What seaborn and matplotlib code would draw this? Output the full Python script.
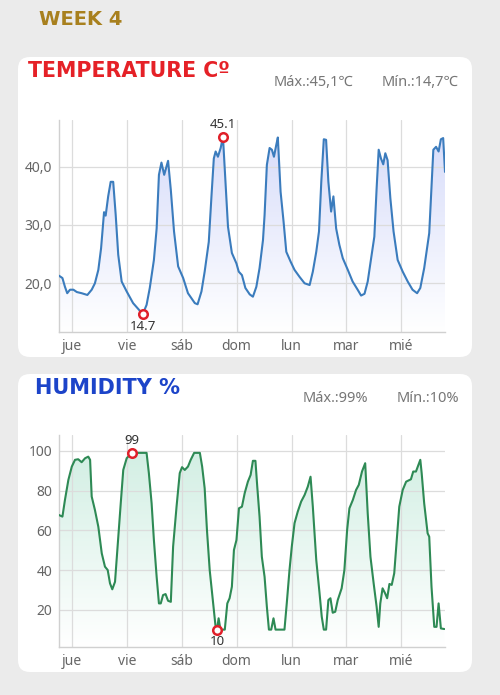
import numpy as np
import matplotlib
matplotlib.use("Agg")
import matplotlib.pyplot as plt
import seaborn as sns
from matplotlib.patches import FancyBboxPatch
from matplotlib.transforms import IdentityTransform
from matplotlib.colors import LinearSegmentedColormap
from matplotlib.ticker import FuncFormatter

# --- data (hours from jue 00:00) ---
days = ["jue", "vie", "sáb", "dom", "lun", "mar", "mié"]
day_hours = [0, 24, 48, 72, 96, 120, 144]

temp_hours = [-5.7, -4.2, -3.1, -2.1, -0.9, 0.6, 2.1, 4.2, 6.7, 8.6, 10.0, 11.5, 12.7,
              14.0, 14.7, 15.8, 16.9, 18.0, 19.1, 20.2, 21.7, 23.9, 26.7, 29.4, 30.9,
              32.6, 34.0, 35.8, 37.0, 38.0, 39.1, 40.3, 42.0, 43.2, 44.6, 46.4, 48.6,
              50.7, 53.7, 54.9, 56.6, 58.0, 59.8, 61.0, 62.0, 62.8, 63.8, 65.0, 66.0,
              67.1, 68.2, 69.9, 71.9, 72.9, 74.3, 75.8, 77.7, 79.1, 80.6, 82.0, 83.5,
              84.2, 85.2, 86.4, 87.4, 88.3, 89.3, 90.0, 91.2, 92.5, 93.7, 95.6, 97.3,
              99.5, 101.7, 103.9, 105.3, 106.8, 108.0, 109.0, 110.1, 111.1, 112.1,
              113.3, 114.3, 115.5, 116.9, 118.4, 120.6, 122.7, 124.9, 126.4, 127.9,
              129.3, 130.8, 132.2, 133.2, 134.1, 135.1, 136.1, 137.0, 138.0, 139.2,
              140.6, 142.4, 144.6, 146.8, 148.9, 150.9, 152.3, 154.0, 156.2, 158.0,
              159.2, 160.3, 161.3, 162.3, 163.1]
temp_values = [21.3, 20.9, 19.4, 18.3, 18.9, 18.9, 18.5, 18.3, 18.0, 18.9, 20.0, 22.3, 26.0,
               32.2, 31.6, 34.9, 37.4, 37.4, 31.7, 24.9, 20.3, 18.6, 16.6, 15.4, 14.7,
               16.3, 19.2, 24.0, 29.4, 38.6, 40.7, 38.6, 41.0, 36.0, 28.9, 22.9, 20.9,
               18.3, 16.6, 16.4, 18.6, 22.0, 27.1, 35.1, 41.4, 42.6, 41.7, 43.2, 45.1,
               37.4, 29.7, 25.2, 23.4, 22.0, 21.4, 19.2, 18.1, 17.7, 19.4, 22.6, 27.4,
               31.7, 40.3, 43.2, 42.9, 41.7, 43.7, 45.0, 35.7, 30.6, 25.4, 23.7, 22.3,
               21.1, 20.0, 19.7, 22.0, 25.4, 28.9, 37.4, 44.7, 44.6, 37.4,
               32.3, 34.9, 29.4, 26.6, 24.3, 22.3, 20.3, 18.9, 17.9, 18.2,
               20.3, 24.3, 28.0, 36.3, 42.9, 41.4, 40.4, 42.3, 41.1, 34.6,
               28.9, 24.0, 22.0, 20.3, 18.9, 18.3, 19.2, 22.6, 28.6, 42.9,
               43.4, 42.6, 44.7, 44.9, 39.1]

hum_hours = [-5.7, -4.2, -3.1, -1.6, -0.1, 1.3, 2.7, 4.2, 5.7, 7.1, 7.9, 8.6, 10.0, 11.5,
             13.0, 14.4, 15.6, 16.6, 17.6, 18.8, 19.9, 21.3, 22.4, 23.9, 26.1, 28.2,
             32.6, 33.6, 34.8, 35.8, 37.0, 38.0, 38.8, 39.8, 40.9, 42.0, 43.2, 44.2,
             45.7, 47.1, 48.1, 49.3, 50.7, 51.9, 53.4, 55.9, 56.9, 58.0, 59.0, 60.2,
             61.7, 62.7, 63.4, 64.1, 64.9, 66.8, 67.9, 68.9, 69.9, 70.8, 71.9, 73.0,
             74.3, 75.5, 76.9, 78.1, 79.1, 80.2, 81.0, 82.0, 83.0, 84.2, 85.2, 86.1,
             87.1, 88.1, 89.0, 92.9, 93.9, 95.1, 96.1, 97.3, 98.7, 100.2, 101.7, 103.1,
             104.3, 105.3, 106.8, 108.2, 109.2, 110.1, 111.1, 112.1, 113.0, 114.0,
             115.1, 116.2, 117.9, 119.1, 120.3, 121.3, 122.8, 124.2, 125.4, 126.8,
             128.2, 129.3, 130.5, 131.9, 133.2, 134.1, 134.8, 135.8, 136.9, 137.8,
             138.8, 139.8, 140.9, 142.1, 143.1, 144.6, 146.1, 148.2, 149.2, 150.4,
             152.3, 152.9, 154.0, 155.5, 156.2, 157.2, 158.4, 159.4, 160.3, 161.3, 162.8]
hum_values = [67.7, 66.9, 75.3, 85.4, 92.1, 95.5, 95.8, 94.3, 96.3, 97.1, 95.5, 77.0, 70.3, 61.8,
              48.4, 41.7, 40.0, 33.3, 30.3, 34.1, 51.8, 73.6, 90.4, 96.3, 99.0, 99.0,
              99.0, 88.8, 73.6, 55.1, 36.6, 23.2, 23.2, 27.4, 27.9, 24.5, 24.0, 51.8,
              71.9, 88.8, 91.8, 90.4, 92.1, 95.5, 99.0, 99.0, 92.1, 81.2, 60.2, 40.0,
              23.2, 12.3, 10.0, 15.7, 10.0, 10.0, 23.2, 25.8, 31.6, 50.1, 55.1, 71.1,
              71.9, 78.7, 84.5, 87.9, 95.0, 95.0, 82.0, 66.9, 46.7, 36.6, 21.5, 10.0,
              10.0, 15.7, 10.0, 10.0, 23.2, 40.0, 51.8, 63.6, 69.4, 74.5, 77.8, 82.0,
              87.0, 71.9, 45.1, 28.8, 16.5, 10.0, 10.0, 24.9, 25.8, 18.5,
              19.0, 24.9, 30.8, 40.0, 60.2, 71.1, 75.3, 80.3, 82.9, 89.6,
              93.8, 68.6, 46.7, 33.3, 21.5, 11.4, 23.2, 30.8, 28.3, 25.8,
              33.0, 32.5, 38.4, 56.8, 71.9, 80.3, 84.5, 85.7, 89.6, 89.6,
              95.5, 88.8, 73.6, 58.5, 56.8, 31.6, 11.4, 11.4, 23.2, 10.6, 10.3]

W, H = 500, 695


def fx(px):
    return px / W


def fy(py):
    return 1 - py / H


sns.set_theme(style="whitegrid")
plt.rcParams["font.family"] = ["Noto Sans", "DejaVu Sans"]

fig = plt.figure(figsize=(W / 100, H / 100), dpi=100, facecolor="#ebebeb")

# white cards
for top, bottom in [(57, 357), (374, 672)]:
    card = FancyBboxPatch((18, H - bottom), 454, bottom - top,
                          boxstyle="round,pad=0,rounding_size=12",
                          transform=IdentityTransform(), facecolor="white",
                          edgecolor="none", zorder=-1)
    fig.add_artist(card)


def gradient_fill(ax, x, y, top_color, ybottom):
    poly = ax.fill_between(x, y, ybottom, facecolor="none", edgecolor="none")
    cmap = LinearSegmentedColormap.from_list("g", ["#ffffff", top_color])
    grad = np.linspace(0, 1, 256).reshape(-1, 1)
    im = ax.imshow(grad, cmap=cmap, aspect="auto", origin="lower",
                   extent=[min(x), max(x), ybottom, max(y)], zorder=0.3)
    im.set_clip_path(poly.get_paths()[0], transform=ax.transData)


def draw_panel(ax, x, y, color, fill_color, ylim, yticks, fmt, lab_fmt):
    gradient_fill(ax, x, y, fill_color, ylim[0])
    sns.lineplot(x=x, y=y, ax=ax, color=color, linewidth=1.5, zorder=3)
    ax.set_xlim(-5.7, 163.1)
    ax.set_ylim(*ylim)
    ax.set_xticks(day_hours)
    ax.set_xticklabels(days)
    ax.set_yticks(yticks)
    ax.yaxis.set_major_formatter(FuncFormatter(fmt))
    ax.set_xlabel("")
    ax.set_ylabel("")
    ax.set_facecolor("none")
    ax.grid(True, color="#dcdcdc", linewidth=0.9)
    for side in ["top", "right"]:
        ax.spines[side].set_visible(False)
    for side in ["left", "bottom"]:
        ax.spines[side].set_color("#d0d0d0")
        ax.spines[side].set_linewidth(1)
    ax.tick_params(axis="both", length=0, labelsize=10, labelcolor="#666666")
    ax.tick_params(axis="x", pad=5)
    ax.tick_params(axis="y", pad=5)

    i_max = int(np.argmax(y))
    i_min = int(np.argmin(y))
    for i, dy, va in [(i_max, 4, "bottom"), (i_min, -4, "top")]:
        ax.scatter([x[i]], [y[i]], s=38, facecolor="white", edgecolor="#e0202a",
                   linewidth=1.8, zorder=5)
        ax.annotate(lab_fmt(y[i]), (x[i], y[i]), xytext=(0, dy),
                    textcoords="offset points", ha="center", va=va,
                    fontsize=9.5, color="#333333")
    return y[i_max], y[i_min]


ax1 = fig.add_axes([fx(59), fy(331.7), fx(386), 211.7 / H])
tmax, tmin = draw_panel(ax1, temp_hours, temp_values, "#3b7cbd", "#d8ddfa",
                        (11.7, 48), [20, 30, 40],
                        lambda v, p: f"{v:.1f}".replace(".", ","),
                        lambda v: f"{v:.1f}")

ax2 = fig.add_axes([fx(59), fy(646.7), fx(386), 211.7 / H])
hmax, hmin = draw_panel(ax2, hum_hours, hum_values, "#2e8a55", "#d3efe4",
                        (1.4, 108), [20, 40, 60, 80, 100],
                        lambda v, p: f"{v:.0f}",
                        lambda v: f"{v:.0f}")

# titles
fig.text(fx(39), fy(19.5), "WEEK 4", color="#a8801e", fontsize=14,
         fontweight="heavy", family="DejaVu Sans", va="center", ha="left")
fig.text(fx(28), fy(71), "TEMPERATURE Cº", color="#e52127", fontsize=14.8,
         fontweight="heavy", family="DejaVu Sans", va="center", ha="left")
fig.text(fx(35), fy(387.5), "HUMIDITY %", color="#1c44c9", fontsize=15,
         fontweight="heavy", family="DejaVu Sans", va="center", ha="left")

stat_kw = dict(color="#777777", fontsize=10.5, va="center",
               family=["Noto Sans", "DejaVu Sans"])
fig.text(fx(274), fy(83), "Máx.:" + f"{tmax:.1f}".replace(".", ",") + "℃", ha="left", **stat_kw)
fig.text(fx(459), fy(83), "Mín.:" + f"{tmin:.1f}".replace(".", ",") + "℃", ha="right", **stat_kw)
fig.text(fx(303), fy(399), f"Máx.:{hmax:.0f}%", ha="left", **stat_kw)
fig.text(fx(459), fy(399), f"Mín.:{hmin:.0f}%", ha="right", **stat_kw)

fig.savefig("out.png", dpi=100, facecolor=fig.get_facecolor())
